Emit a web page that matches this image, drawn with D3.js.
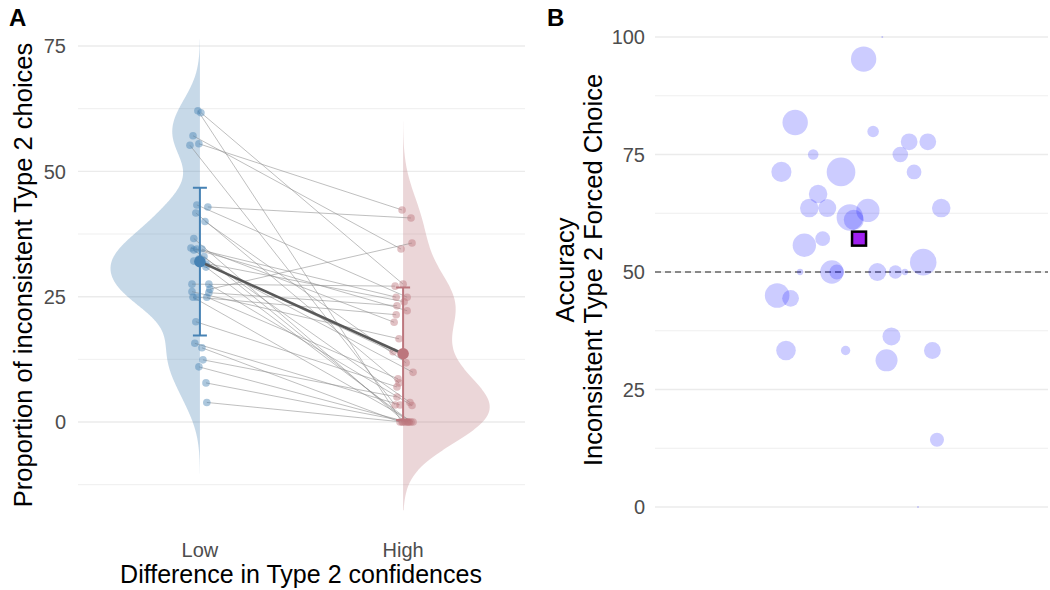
<!doctype html>
<html lang="en">
<head>
<meta charset="utf-8">
<title>Type 2 choices</title>
<script src="https://cdn.jsdelivr.net/npm/d3@7"></script>
<style>
  body { margin: 0; background: #fff; }
  text { font-family: "Liberation Sans", Arial, sans-serif; }
</style>
</head>
<body>
<svg id="chart" width="1050" height="590"></svg>
<script>
// panel A: proportion of inconsistent type 2 choices, one pair per participant
var lowVals  = [62.1, 61.7, 57.1, 55.5, 55.2, 43.3, 42.9, 41.7, 40.0, 36.6, 34.7, 34.5,
                34.5, 34.3, 33.0, 32.5, 32.1, 31.5, 30.9, 27.5, 27.5, 26.5, 26.0, 25.8,
                24.9, 24.9, 24.9, 20.0, 15.7, 14.8, 12.4, 11.0, 7.8, 3.9];
var highVals = [0, 27.5, 34.5, 42.3, 3.4, 24.9, 40.7, 7.8, 11.8, 0, 22.2, 24.9,
                19.9, 3.9, 0, 9.9, 24.0, 14.0, 0, 27.1, 3.3, 35.7, 16.6, 23.2,
                0, 21.4, 8.6, 7.0, 3.4, 0, 5.0, 0, 0, 0];
// horizontal jitter, in category units
var lowJit  = [-0.010, 0.005, -0.034, -0.005, -0.049, -0.015, 0.039, -0.020, 0.025, -0.030, -0.044, -0.015,
               0.010, -0.030, 0.020, -0.005, -0.030, 0.030, 0.030, -0.039, 0.044, 0.049, -0.039, 0.044,
               -0.034, -0.015, 0.034, -0.020, -0.025, 0.010, 0.015, -0.005, 0.030, 0.034];
var highJit = [-0.005, 0.000, -0.010, -0.005, -0.039, 0.020, 0.039, -0.020, 0.015, 0.010, 0.020, -0.034,
               -0.044, 0.034, 0.025, 0.049, 0.005, -0.049, 0.039, -0.039, 0.044, 0.044, -0.020, -0.030,
               0.049, -0.034, -0.025, -0.030, -0.015, -0.015, -0.030, 0.020, 0.030, 0.000];
var groups = ["Low", "High"];
var groupColors = ["#4682b4", "#bc767d"];
var yTicksA = [0, 25, 50, 75];

// panel B: accuracy per participant, bubble size = number of inconsistent trials
var accB   = [95.3, 100, 81.8, 79.9, 77.7, 77.7, 75, 75, 71.3, 71.3, 71.3, 66.6,
              63.6, 63.6, 63.1, 61.6, 61.1, 63.6, 55.7, 57.1, 50, 50, 50, 50,
              50, 50, 52.1, 45, 44.4, 36.3, 33.3, 33.3, 31.2, 33.3, 14.3, 0];
var jitB   = [1.037, 1.094, 0.828, 1.066, 1.176, 1.233, 0.883, 1.149, 0.786, 0.968, 1.191, 0.898,
              0.871, 0.926, 1.050, 0.995, 1.007, 1.274, 0.856, 0.912, 0.843, 0.940, 0.955, 1.079,
              1.134, 1.163, 1.219, 0.773, 0.814, 1.122, 0.800, 0.982, 1.107, 1.247, 1.261, 1.203];
var nB     = [30, 0, 30, 5, 12, 12, 4, 10, 18, 39, 9, 15,
              15, 14, 25, 33, 18, 15, 25, 9, 1, 25, 9, 14,
              7, 1, 33, 28, 12, 14, 17, 3, 22, 12, 8, 0];
var meanB = {x: 1.023, acc: 57.1};
var yTicksB = [0, 25, 50, 75, 100];

var svg = d3.select("#chart");
var grid = "#ebebeb", tickCol = "#4d4d4d";

// ---------- panel A ----------
var xA = d3.scaleLinear().domain([0.4, 2.6]).range([78, 525]);
var yA = d3.scaleLinear().domain([-15, 79]).range([497.2, 25.97]);
var gA = svg.append("g");

d3.range(-12.5, 79, 12.5).forEach(function (v) {
  var major = yTicksA.indexOf(v) >= 0;
  gA.append("line").attr("x1", 78).attr("x2", 525).attr("y1", yA(v)).attr("y2", yA(v))
    .attr("stroke", grid).attr("stroke-width", major ? 1.4 : 0.8);
});

function kde(vals) {
  var n = vals.length, sorted = vals.slice().sort(d3.ascending);
  var iqr = d3.quantile(sorted, 0.75) - d3.quantile(sorted, 0.25);
  var bw = 0.9 * Math.min(d3.deviation(vals), iqr / 1.34) * Math.pow(n, -0.2);
  var lo = d3.min(vals) - 3 * bw, hi = d3.max(vals) + 3 * bw;
  return d3.range(0, 513).map(function (i) {
    var t = lo + (hi - lo) * i / 512;
    var d = d3.mean(vals, function (v) { var z = (t - v) / bw; return Math.exp(-0.5 * z * z); }) / (bw * Math.sqrt(2 * Math.PI));
    return [t, d];
  });
}
var dens = [kde(lowVals), kde(highVals)];
var maxD = d3.max(dens, function (a) { return d3.max(a, function (p) { return p[1]; }); });
var halfW = 0.44;
dens.forEach(function (pts, gi) {
  var side = gi === 0 ? -1 : 1, cx = gi + 1;
  var area = d3.area()
    .y(function (p) { return yA(p[0]); })
    .x0(xA(cx))
    .x1(function (p) { return xA(cx + side * halfW * p[1] / maxD); });
  gA.append("path").attr("d", area(pts)).attr("fill", groupColors[gi]).attr("fill-opacity", 0.3);
});

// participant lines
lowVals.forEach(function (v, i) {
  gA.append("line")
    .attr("x1", xA(1 + lowJit[i])).attr("y1", yA(v))
    .attr("x2", xA(2 + highJit[i])).attr("y2", yA(highVals[i]))
    .attr("stroke", "#8c8c8c").attr("stroke-opacity", 0.7).attr("stroke-width", 0.8);
});
[lowVals, highVals].forEach(function (vals, gi) {
  var jit = gi === 0 ? lowJit : highJit;
  gA.selectAll(null).data(vals).enter().append("circle")
    .attr("cx", function (d, i) { return xA(gi + 1 + jit[i]); })
    .attr("cy", function (d) { return yA(d); })
    .attr("r", 3.8).attr("fill", groupColors[gi]).attr("fill-opacity", 0.45);
});

var means = [d3.mean(lowVals), d3.mean(highVals)];
var sds = [d3.deviation(lowVals), d3.deviation(highVals)];
gA.append("line").attr("x1", xA(1)).attr("y1", yA(means[0])).attr("x2", xA(2)).attr("y2", yA(means[1]))
  .attr("stroke", "#595959").attr("stroke-width", 2.6);
means.forEach(function (m, gi) {
  var cx = xA(gi + 1), col = groupColors[gi];
  gA.append("line").attr("x1", cx).attr("x2", cx).attr("y1", yA(m - sds[gi])).attr("y2", yA(m + sds[gi]))
    .attr("stroke", col).attr("stroke-width", 2);
  [m - sds[gi], m + sds[gi]].forEach(function (e) {
    gA.append("line").attr("x1", cx - 7).attr("x2", cx + 7).attr("y1", yA(e)).attr("y2", yA(e))
      .attr("stroke", col).attr("stroke-width", 2);
  });
  gA.append("circle").attr("cx", cx).attr("cy", yA(m)).attr("r", 5.8).attr("fill", col);
});

yTicksA.forEach(function (v) {
  gA.append("text").attr("x", 66).attr("y", yA(v)).attr("dy", "0.36em").attr("text-anchor", "end")
    .attr("font-size", 20).attr("fill", tickCol).text(v);
});
groups.forEach(function (g, gi) {
  gA.append("text").attr("x", xA(gi + 1)).attr("y", 557).attr("text-anchor", "middle")
    .attr("font-size", 20).attr("fill", tickCol).text(g);
});
gA.append("text").attr("x", 301).attr("y", 583).attr("text-anchor", "middle")
  .attr("font-size", 25).text("Difference in Type 2 confidences");
gA.append("text").attr("transform", "translate(32,275) rotate(-90)").attr("text-anchor", "middle")
  .attr("font-size", 25.5).text("Proportion of inconsistent Type 2 choices");
svg.append("text").attr("x", 9).attr("y", 26).attr("font-size", 24).attr("font-weight", "bold").text("A");

// ---------- panel B ----------
var xB = d3.scaleLinear().domain([0.4, 1.6]).range([655, 1048]);
var yB = d3.scaleLinear().domain([-5, 105]).range([530.5, 13.5]);
var rB = d3.scaleSqrt().domain([0, 40]).range([1, 14.5]);
var gB = svg.append("g");

d3.range(0, 101, 12.5).forEach(function (v) {
  var major = yTicksB.indexOf(v) >= 0;
  gB.append("line").attr("x1", 655).attr("x2", 1048).attr("y1", yB(v)).attr("y2", yB(v))
    .attr("stroke", grid).attr("stroke-width", major ? 1.4 : 0.8);
});
gB.append("line").attr("x1", 655).attr("x2", 1048).attr("y1", yB(50)).attr("y2", yB(50))
  .attr("stroke", "#666").attr("stroke-width", 1.5).attr("stroke-dasharray", "6,4");

gB.selectAll(null).data(accB).enter().append("circle")
  .attr("cx", function (d, i) { return xB(jitB[i]); })
  .attr("cy", function (d) { return yB(d); })
  .attr("r", function (d, i) { return rB(nB[i]); })
  .attr("fill", "blue").attr("fill-opacity", 0.2);

gB.append("rect").attr("x", xB(meanB.x) - 7).attr("y", yB(meanB.acc) - 7).attr("width", 14).attr("height", 14)
  .attr("fill", "#a020f0").attr("stroke", "#000").attr("stroke-width", 2.5);

yTicksB.forEach(function (v) {
  gB.append("text").attr("x", 645).attr("y", yB(v)).attr("dy", "0.36em").attr("text-anchor", "end")
    .attr("font-size", 20).attr("fill", tickCol).text(v);
});
gB.append("text").attr("transform", "translate(574,270) rotate(-90)").attr("text-anchor", "middle")
  .attr("font-size", 25.5).text("Accuracy");
gB.append("text").attr("transform", "translate(602,270) rotate(-90)").attr("text-anchor", "middle")
  .attr("font-size", 25.5).text("Inconsistent Type 2 Forced Choice");
svg.append("text").attr("x", 547).attr("y", 26).attr("font-size", 24).attr("font-weight", "bold").text("B");
</script>
</body>
</html>
